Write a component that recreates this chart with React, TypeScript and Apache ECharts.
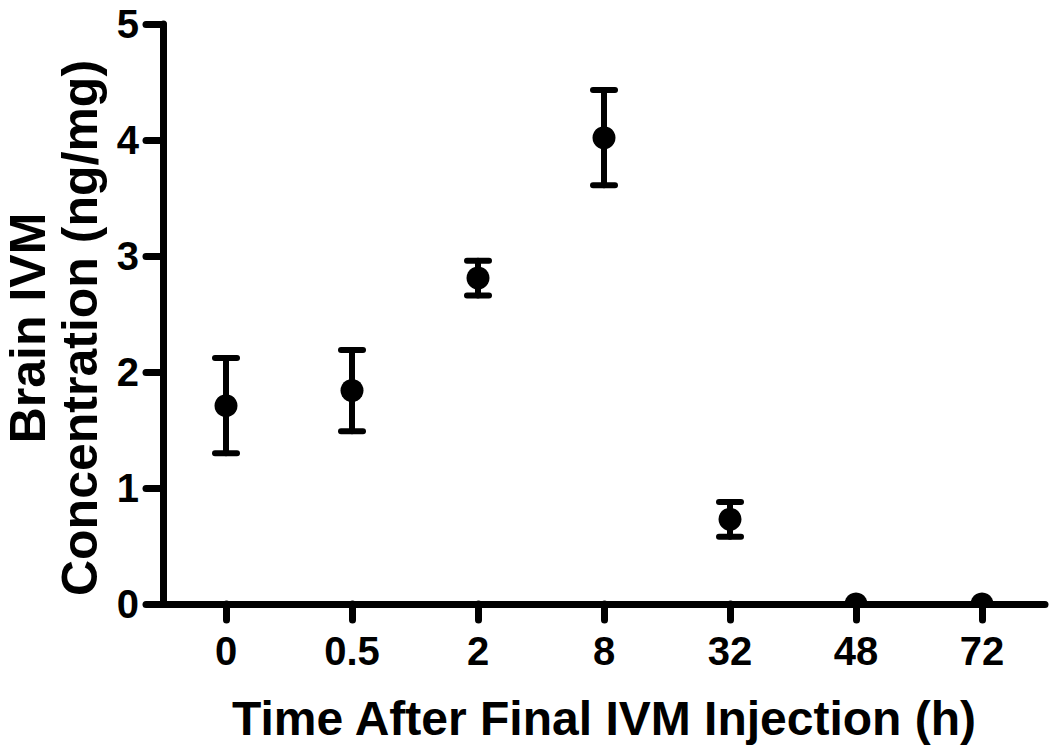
import React, { useEffect, useRef } from "react";
import * as echarts from "echarts";

const categories = ["0", "0.5", "2", "8", "32", "48", "72"];
const meanConc = [1.71, 1.84, 2.81, 4.02, 0.73, 0, 0];
const semConc = [0.41, 0.35, 0.15, 0.41, 0.15, 0, 0];
const yMin = 0;
const yMax = 5;
const yInterval = 1;

const FONT = "'Liberation Sans', Arial, Helvetica, sans-serif";

export default function App() {
  const ref = useRef<HTMLDivElement>(null);

  useEffect(() => {
    if (!ref.current) return;
    const chart = echarts.init(ref.current, null, { renderer: "svg" });
    const data = categories.map((_, i) => [i, meanConc[i], semConc[i]]);

    chart.setOption({
      animation: false,
      backgroundColor: "#ffffff",
      grid: { left: 163, top: 24, right: 5, bottom: 144, containLabel: false },
      xAxis: {
        type: "category",
        data: categories,
        boundaryGap: true,
        name: "Time After Final IVM Injection (h)",
        nameLocation: "middle",
        nameGap: 90,
        nameTextStyle: { fontFamily: FONT, fontWeight: "bold", fontSize: 48, color: "#000" },
        axisLine: { show: true, lineStyle: { color: "#000", width: 7, cap: "round" } },
        axisTick: { show: true, alignWithLabel: true, length: 16, lineStyle: { color: "#000", width: 7, cap: "round" } },
        axisLabel: { margin: 27, fontFamily: FONT, fontWeight: "bold", fontSize: 40, color: "#000" },
        splitLine: { show: false },
      },
      yAxis: {
        type: "value",
        min: yMin,
        max: yMax,
        interval: yInterval,
        axisLine: { show: true, lineStyle: { color: "#000", width: 7, cap: "round" } },
        axisTick: { show: true, length: 17, lineStyle: { color: "#000", width: 7, cap: "round" } },
        axisLabel: { margin: 24, fontFamily: FONT, fontWeight: "bold", fontSize: 40, lineHeight: 30, color: "#000" },
        splitLine: { show: false },
      },
      graphic: [
        {
          type: "text",
          x: 54,
          y: 328,
          rotation: Math.PI / 2,
          style: {
            text: "Brain IVM\nConcentration (ng/mg)",
            font: `bold 50px ${FONT}`,
            lineHeight: 52,
            align: "center",
            verticalAlign: "middle",
            fill: "#000",
          },
        },
      ],
      series: [
        {
          type: "custom",
          clip: true,
          data,
          encode: { x: 0, y: 1 },
          renderItem: (params: any, api: any) => {
            const i = api.value(0);
            const m = api.value(1);
            const s = api.value(2);
            const c = api.coord([i, m]);
            const children: any[] = [];
            const ls = { stroke: "#000", lineWidth: 6, lineCap: "round" };
            if (s > 0) {
              const hi = api.coord([i, m + s]);
              const lo = api.coord([i, m - s]);
              const half = 11;
              children.push({ type: "line", shape: { x1: c[0], y1: hi[1], x2: c[0], y2: lo[1] }, style: ls });
              children.push({ type: "line", shape: { x1: c[0] - half, y1: hi[1], x2: c[0] + half, y2: hi[1] }, style: ls });
              children.push({ type: "line", shape: { x1: c[0] - half, y1: lo[1], x2: c[0] + half, y2: lo[1] }, style: ls });
            }
            children.push({ type: "circle", shape: { cx: c[0], cy: c[1], r: 11.5 }, style: { fill: "#000" } });
            return { type: "group", children };
          },
        },
      ],
    });

    return () => chart.dispose();
  }, []);

  return <div ref={ref} style={{ width: 1050, height: 748, position: "absolute", left: 0, top: 0 }} />;
}
